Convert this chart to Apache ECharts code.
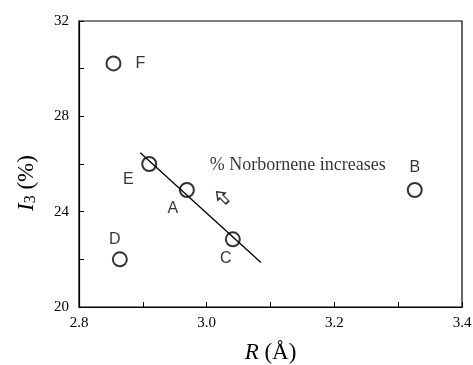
<!DOCTYPE html>
<html>
<head>
<meta charset="utf-8">
<script src="https://cdn.jsdelivr.net/npm/echarts@6/dist/echarts.min.js"></script>
<style>
    html,body{margin:0;padding:0;background:#fff;}
    #chart-div{width:473px;height:365px;}
</style>
</head>
<body>
<div id="chart-div"></div>
<script>
// 数据
var names=['F','E','A','C','D','B'];
var rValues=[2.854,2.910,2.969,3.041,2.864,3.326];
var i3Values=[30.22,26.00,24.91,22.84,22.00,24.91];
var fitR=[2.896,3.085];
var fitI3=[26.47,21.87];
var noteText='% Norbornene increases';
var notePos=[3.005,25.96];
var arrowPos=[3.024,24.61];

var labelOffset={                                    //字母标签偏移
    F:[27,0],E:[-21,16],A:[-14,19],C:[-7,19],D:[-5,-20],B:[0,-22]
};

function setChart(ele){
    var myChart=echarts.init(ele);
    var pts=[];
    for(var i=0;i<names.length;i++){
        pts.push({
            name:names[i],
            value:[rValues[i],i3Values[i]],
            label:{offset:labelOffset[names[i]]}
        });
    }
    var fit=[];
    for(var j=0;j<fitR.length;j++){
        fit.push([fitR[j],fitI3[j]]);
    }
    var serif='"Liberation Serif","Times New Roman",serif';
    var sans='"Liberation Sans",Arial,sans-serif';
    var option={
        animation:false,
        grid:{left:79,right:11,top:21,bottom:58,outerBoundsMode:'none',show:true,borderColor:'#000',borderWidth:1.2},
        xAxis:{
            type:'value',min:2.8,max:3.4,interval:0.1,
            name:'{i|R} (Å)',nameLocation:'middle',nameGap:34,
            nameTextStyle:{fontFamily:serif,fontSize:23,color:'#000',rich:{i:{fontFamily:serif,fontSize:23,fontStyle:'italic',color:'#000'}}},
            axisLine:{lineStyle:{color:'#000',width:1.2}},
            axisTick:{inside:true,length:5,lineStyle:{color:'#000'}},
            axisLabel:{margin:9,color:'#000',fontFamily:serif,fontSize:15,
                formatter:function(v){
                    return Math.round(v*10)%2==0?v.toFixed(1):'';
                }},
            splitLine:{show:false}
        },
        yAxis:{
            type:'value',min:20,max:32,interval:2,
            name:'{i|I}{s|3} (%)',nameLocation:'middle',nameGap:40,
            nameTextStyle:{fontFamily:serif,fontSize:23,color:'#000',padding:[0,38,0,0],rich:{
                i:{fontFamily:serif,fontSize:23,fontStyle:'italic',color:'#000'},
                s:{fontFamily:serif,fontSize:16,color:'#000',verticalAlign:'bottom',padding:[9,0,0,0]}
            }},
            axisLine:{lineStyle:{color:'#000',width:1.2}},
            axisTick:{inside:true,length:5,lineStyle:{color:'#000'}},
            axisLabel:{margin:10,color:'#000',fontFamily:serif,fontSize:15,
                formatter:function(v){
                    return v%4==0?String(v):'';
                }},
            splitLine:{show:false}
        },
        series:[
            {
                type:'line',
                data:fit,
                symbol:'none',
                lineStyle:{color:'#000',width:1.3},
                z:2
            },
            {
                type:'scatter',
                data:pts,
                symbol:'circle',
                symbolSize:14,
                itemStyle:{color:'rgba(255,255,255,0)',borderColor:'#000',borderWidth:2},
                label:{show:true,position:'inside',formatter:'{b}',color:'#000',fontFamily:sans,fontSize:16},
                z:3
            },
            {
                type:'scatter',
                data:[{value:notePos}],
                symbolSize:0,
                label:{show:true,position:'right',distance:0,formatter:noteText,color:'#000',fontFamily:serif,fontSize:18},
                silent:true
            },
            {
                type:'scatter',
                data:[{value:arrowPos}],
                symbol:'path://M0,0 L7,8 L3,8 L3,18 L-3,18 L-3,8 L-7,8 Z',
                symbolSize:[10,15],
                symbolRotate:45,
                itemStyle:{color:'#fff',borderColor:'#000',borderWidth:1.5},
                silent:true
            }
        ]
    };
    myChart.setOption(option);
}
setChart(document.getElementById('chart-div'));
</script>
</body>
</html>
